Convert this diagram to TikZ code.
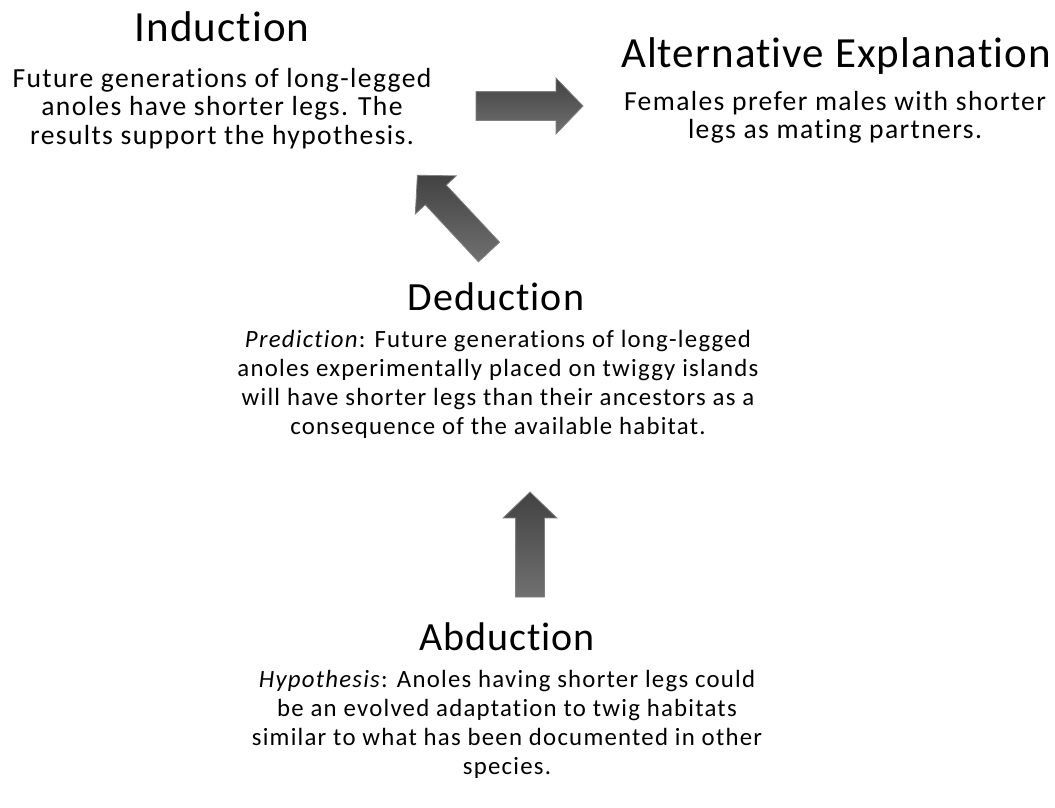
\documentclass[tikz,border=0pt]{standalone}
\usepackage{fontspec}
\setmainfont{Carlito}[Ligatures=NoCommon]
\newfontfamily\bodyfont{Carlito}[Ligatures=NoCommon, LetterSpace=5]
\newfontfamily\titlefont{Carlito}[Ligatures=NoCommon, LetterSpace=2.5]
\usetikzlibrary{shapes.arrows}
\begin{document}
\begin{tikzpicture}[x=1pt,y=-1pt,
  title/.style={font=\titlefont\fontsize{43}{50}\selectfont, inner sep=0pt, anchor=base},
  titleb/.style={title, font=\titlefont\fontsize{40}{48}\selectfont},
  body/.style={font=\bodyfont\fontsize{27.6}{28.5}\selectfont, inner sep=0pt, anchor=north, align=center},
  bodyb/.style={body, font=\bodyfont\fontsize{24.8}{29}\selectfont},
  blockarrow/.style={single arrow, minimum height=105pt, anchor=tail,
    inner xsep=0pt, inner ysep=14pt, text width=0pt,
    single arrow head extend=13.5pt, single arrow tip angle=92,
    single arrow head indent=0pt, outer sep=0pt,
    top color=black!74, middle color=black!70, bottom color=black!56,
    draw=black!50, line width=0.8pt}]
\useasboundingbox (0,0) rectangle (1055,808);

% Induction
\node[title] (indT) at (222,42) {Induction};
\node[body] (indB) at (222,67.05) {\strut Future generations of long-legged\\anoles have shorter legs. The\\results support the hypothesis.};

% Alternative explanation
\node[title] (altT) at (836,67) {Alternative Explanation};
\node[body] (altB) at (835,90) {\strut Females prefer males with shorter\\legs as mating partners.};

% Deduction
\node[titleb] (dedT) at (496,310) {Deduction};
\node[bodyb] (dedB) at (498,326.7) {\strut\textit{Prediction}: Future generations of long-legged\\anoles experimentally placed on twiggy islands\\will have shorter legs than their ancestors as a\\consequence of the available habitat.};

% Abduction
\node[titleb] (abdT) at (507,650) {Abduction};
\node[bodyb] (abdB) at (507,666.7) {\strut\textit{Hypothesis}: Anoles having shorter legs could\\be an evolved adaptation to twig habitats\\similar to what has been documented in other\\species.};

% Block arrows
\node[blockarrow, minimum height=107pt] (arrIA) at (476,106) {};
\node[blockarrow, rotate=133] (arrDI) at (489,252) {};
\node[blockarrow, rotate=90, single arrow head extend=12.5pt] (arrAD) at (530,597) {};
\end{tikzpicture}
\end{document}
